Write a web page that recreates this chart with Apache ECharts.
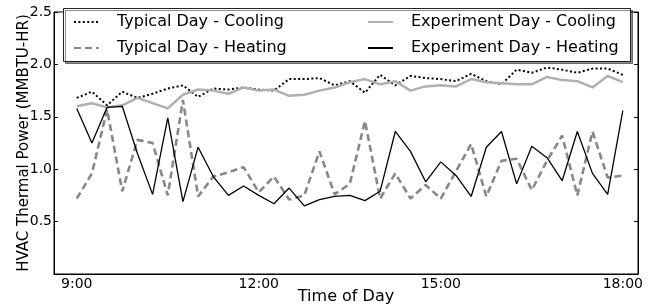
<!DOCTYPE html>
<html><head><meta charset="utf-8">
<script src="https://cdn.jsdelivr.net/npm/echarts@6/dist/echarts.min.js"></script>
<style>html,body{margin:0;padding:0;background:#fff}#c{width:656px;height:308px}</style>
</head><body><div id="c"></div>
<script>
// 15-minute samples from 9:00 to 18:00
const startHour = 9;
const stepHour = 0.25;
const typicalCooling = [1.68,1.74,1.61,1.74,1.68,1.72,1.77,1.80,1.69,1.77,1.76,1.78,1.76,1.75,1.86,1.86,1.87,1.80,1.84,1.73,1.90,1.80,1.89,1.87,1.86,1.84,1.91,1.84,1.81,1.95,1.92,1.97,1.95,1.92,1.96,1.96,1.90];
const typicalHeating = [0.72,0.96,1.57,0.79,1.28,1.25,0.75,1.66,0.74,0.93,0.97,1.02,0.78,0.93,0.71,0.75,1.17,0.76,0.86,1.46,0.72,0.96,0.72,0.85,0.72,0.98,1.24,0.74,1.08,1.10,0.80,1.08,1.32,0.75,1.36,0.92,0.94];
const experimentCooling = [1.60,1.63,1.59,1.61,1.68,1.63,1.58,1.71,1.76,1.75,1.72,1.78,1.75,1.76,1.70,1.71,1.75,1.78,1.83,1.86,1.81,1.84,1.75,1.79,1.80,1.79,1.86,1.83,1.82,1.81,1.81,1.88,1.85,1.84,1.78,1.89,1.83];
const experimentHeating = [1.58,1.25,1.59,1.60,1.15,0.76,1.49,0.69,1.21,0.93,0.75,0.84,0.75,0.67,0.82,0.65,0.71,0.74,0.75,0.70,0.79,1.36,1.17,0.88,1.07,0.94,0.74,1.21,1.36,0.86,1.22,1.11,0.89,1.36,0.96,0.76,1.56];
const xTickValues = [9, 12, 15, 18];
const xTickLabels = ['9:00', '12:00', '15:00', '18:00'];
const seriesNames = ['Typical Day - Cooling', 'Typical Day - Heating', 'Experiment Day - Cooling', 'Experiment Day - Heating'];

const times = typicalCooling.map((_, i) => startHour + i * stepHour);
const pairs = arr => arr.map((v, i) => [times[i], v]);
const FONT = 'DejaVu Sans';

const chart = echarts.init(document.getElementById('c'), null, {renderer: 'canvas'});
const legendCommon = {
  orient: 'vertical', top: 14, padding: 0, itemWidth: 25, itemHeight: 14, itemGap: 10,
  itemStyle: {opacity: 0},
  textStyle: {fontFamily: FONT, fontSize: 16, color: '#000', padding: [0, 0, 0, 13]},
  selectedMode: false
};
chart.setOption({
  animation: false,
  backgroundColor: '#fff',
  grid: {left: 54, right: 18, top: 12, bottom: 34, outerBoundsMode: 'none', containLabel: false,
         show: true, borderColor: '#000', borderWidth: 1, backgroundColor: 'transparent'},
  graphic: [{
    type: 'rect', z: 90, left: 63, top: 8,
    shape: {width: 567, height: 53},
    style: {fill: '#fff', stroke: '#222', lineWidth: 1, shadowColor: 'rgba(0,0,0,0.45)', shadowOffsetX: 2, shadowOffsetY: 2, shadowBlur: 0}
  }],
  legend: [
    Object.assign({left: 73, data: [seriesNames[0], seriesNames[1]], z: 100}, legendCommon),
    Object.assign({left: 367, data: [seriesNames[2], seriesNames[3]], z: 100}, legendCommon)
  ],
  xAxis: [{
    type: 'value', min: 8.625, max: 18.25,
    name: 'Time of Day', nameLocation: 'middle', nameGap: 15, nameMoveOverlap: false,
    nameTextStyle: {fontFamily: FONT, fontSize: 16, color: '#000', verticalAlign: 'top'},
    axisLine: {show: true, lineStyle: {color: '#000', width: 1}},
    axisTick: {show: false, customValues: xTickValues},
    axisLabel: {customValues: xTickValues, fontFamily: FONT, fontSize: 14, color: '#000', margin: 3,
      formatter: v => xTickLabels[xTickValues.indexOf(Math.round(v))] || ''},
    splitLine: {show: false}
  }],
  yAxis: [{
    type: 'value', min: 0, max: 2.5, interval: 0.5,
    name: 'HVAC Thermal Power (MMBTU-HR)', nameLocation: 'middle', nameGap: 22, nameMoveOverlap: false,
    nameTextStyle: {fontFamily: FONT, fontSize: 15, color: '#000'},
    axisLine: {show: true, lineStyle: {color: '#000', width: 1}},
    axisTick: {show: true, inside: true, length: 4, lineStyle: {color: '#000'}},
    axisLabel: {fontFamily: FONT, fontSize: 14, color: '#000', margin: 2,
      formatter: v => v === 0 ? '' : v.toFixed(1)},
    splitLine: {show: false}
  }, {
    type: 'value', min: 0, max: 2.5, interval: 0.5, position: 'right',
    axisLine: {show: true, lineStyle: {color: '#000', width: 1}},
    axisTick: {show: true, inside: true, length: 4, lineStyle: {color: '#000'}},
    axisLabel: {show: false}, splitLine: {show: false}
  }],
  series: [
    {name: seriesNames[0], type: 'line', data: pairs(typicalCooling), symbol: 'none', z: 3,
     color: '#000', lineStyle: {color: '#000', width: 2, type: [2, 2.4]}},
    {name: seriesNames[1], type: 'line', data: pairs(typicalHeating), symbol: 'none', z: 3,
     color: '#888', lineStyle: {color: '#888', width: 2.6, type: [7, 4]}},
    {name: seriesNames[2], type: 'line', data: pairs(experimentCooling), symbol: 'none', z: 3,
     color: '#b0b0b0', lineStyle: {color: '#b0b0b0', width: 2.5}},
    {name: seriesNames[3], type: 'line', data: pairs(experimentHeating), symbol: 'none', z: 4,
     color: '#000', lineStyle: {color: '#000', width: 1.3}}
  ]
});
</script></body></html>
